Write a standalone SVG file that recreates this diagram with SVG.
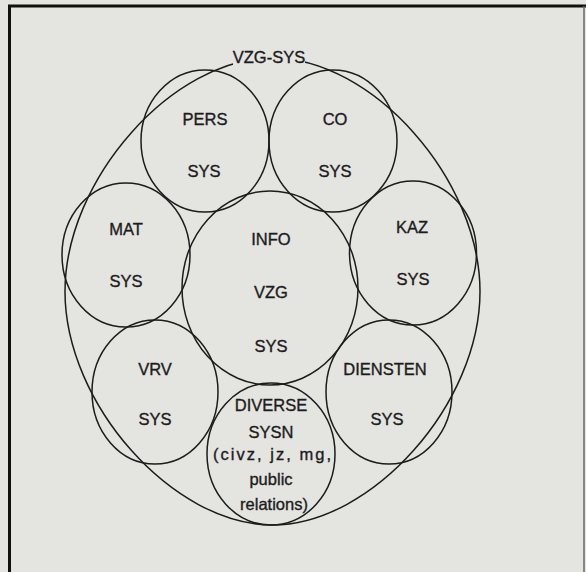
<svg xmlns="http://www.w3.org/2000/svg" width="586" height="572" viewBox="0 0 586 572">
<style>
  .c { fill: none; stroke: #1c1c1c; stroke-width: 1.5; }
  text { font-family: "Liberation Sans", Arial, sans-serif; font-size: 16.5px; fill: #1c1c1c; stroke: #1c1c1c; stroke-width: 0.35; text-anchor: middle; }
</style>
<rect x="0" y="0" width="586" height="572" fill="#e4e4e1"/>
<g id="frame">
  <path d="M9.5 572 V6 H586" fill="none" stroke="#111" stroke-width="3"/>
  <path d="M584 6 V572" fill="none" stroke="#666" stroke-width="1.5"/>
</g>
<g id="vzg-sys">
  <path class="c" d="M480 291.5 C480 403.8 372.3 525 272.5 525 C172.7 525 65 403.8 65 291.5 C65 179.2 172.7 58 272.5 58 C372.3 58 480 179.2 480 291.5 Z"/>
  <rect x="233" y="47" width="72" height="18" fill="#e4e4e1"/>
  <text x="269" y="63">VZG-SYS</text>
</g>
<g id="pers">
  <ellipse class="c" cx="205" cy="141" rx="64" ry="71"/>
  <text x="205" y="125">PERS</text>
  <text x="204" y="177">SYS</text>
</g>
<g id="co">
  <ellipse class="c" cx="333" cy="141" rx="64" ry="71"/>
  <text x="335" y="125">CO</text>
  <text x="335" y="177">SYS</text>
</g>
<g id="mat">
  <ellipse class="c" cx="126" cy="255" rx="64" ry="72"/>
  <text x="126" y="235">MAT</text>
  <text x="126" y="287">SYS</text>
</g>
<g id="kaz">
  <ellipse class="c" cx="413" cy="253" rx="63.5" ry="72"/>
  <text x="412" y="233">KAZ</text>
  <text x="413" y="285">SYS</text>
</g>
<g id="info">
  <ellipse class="c" cx="270" cy="288" rx="88" ry="97"/>
  <text x="271" y="245">INFO</text>
  <text x="271" y="298">VZG</text>
  <text x="271" y="352">SYS</text>
</g>
<g id="vrv">
  <ellipse class="c" cx="155" cy="392" rx="63" ry="72"/>
  <text x="155" y="375">VRV</text>
  <text x="155" y="425">SYS</text>
</g>
<g id="diensten">
  <ellipse class="c" cx="389" cy="392" rx="63" ry="72"/>
  <text x="385" y="375">DIENSTEN</text>
  <text x="387" y="425">SYS</text>
</g>
<g id="diverse">
  <ellipse class="c" cx="271" cy="454" rx="64" ry="71"/>
  <text x="271" y="411">DIVERSE</text>
  <text x="271" y="438">SYSN</text>
  <text x="272" y="460" textLength="118" lengthAdjust="spacing">(civz, jz, mg,</text>
  <text x="271" y="485">public</text>
  <text x="274" y="510">relations)</text>
</g>
<g id="connectors"></g>
</svg>
